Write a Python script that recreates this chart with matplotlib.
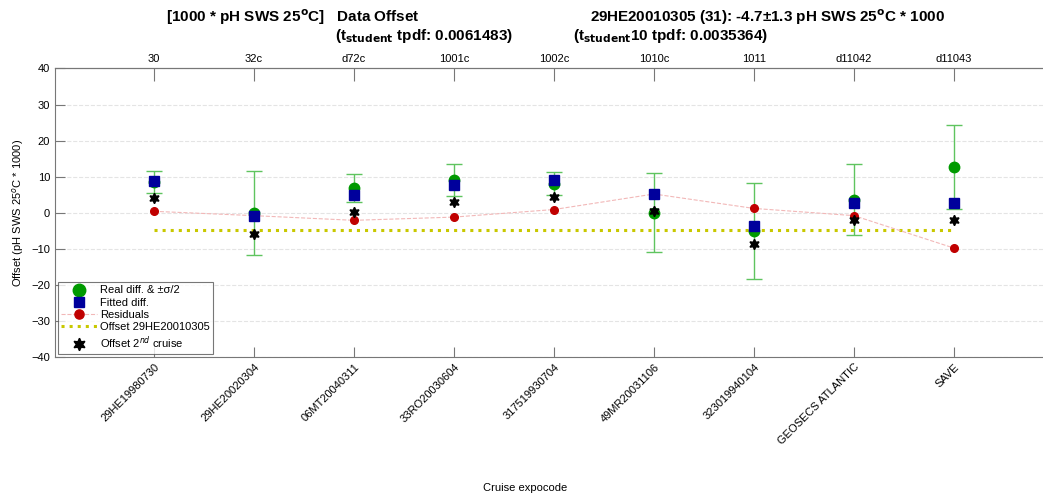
import numpy as np
import matplotlib
matplotlib.use("Agg")
import matplotlib.pyplot as plt

plt.rcParams['font.family'] = ['Liberation Sans', 'DejaVu Sans']

# cruise names (bottom axis) and station codes (top axis)
cruises = ['29HE19980730', '29HE20020304', '06MT20040311', '33RO20030604',
           '317519930704', '49MR20031106', '323019940104', 'GEOSECS ATLANTIC', 'SAVE']
codes = ['30', '32c', 'd72c', '1001c', '1002c', '1010c', '1011', 'd11042', 'd11043']

# offsets in pH SWS 25C * 1000
real_diff = [8.5, -0.15, 6.9, 9.05, 8.05, 0.0, -5.1, 3.6, 12.7]
half_sigma = [2.95, 11.6, 3.8, 4.35, 3.25, 11.0, 13.3, 9.9, 11.7]
fitted_diff = [8.9, -1.0, 4.9, 7.8, 9.0, 5.1, -3.8, 2.7, 2.8]
residuals = [0.4, -0.8, -2.1, -1.2, 0.9, 5.2, 1.2, -0.8, -9.8]
offset_2nd = [4.2, -5.8, 0.1, 3.0, 4.3, 0.4, -8.7, -2.1, -1.9]
offset_main = -4.7

x = np.arange(1, len(cruises) + 1)

fig = plt.figure(figsize=(10.43, 4.96), dpi=100)
ax = fig.add_axes([0.0527, 0.2802, 0.9492, 0.5817])

ax.errorbar(x, real_diff, yerr=half_sigma, fmt='none', ecolor='#5fc45f',
            elinewidth=1.0, capsize=6, capthick=1.0, zorder=2)
ax.plot(x, real_diff, 'o', color='#009a00', markersize=7.5, zorder=3,
        label='Real diff. & \u00b1\u03c3/2')
ax.plot(x, fitted_diff, 's', color='#00009c', markersize=6.5, zorder=4,
        label='Fitted diff.')
ax.plot(x, residuals, '--o', color='#f2b8b8', lw=0.8, markersize=5.5,
        markerfacecolor='#c00000', markeredgecolor='#c00000', zorder=2,
        label='Residuals')
ax.plot([x[0], x[-1]], [offset_main, offset_main], ':', color='#c8c800',
        lw=2.2, zorder=1, label='Offset 29HE20010305')
ax.plot(x, offset_2nd, linestyle='none', marker=(6, 1, 0), color='black',
        markersize=7.5, zorder=5, label='Offset 2$^{nd}$ cruise')

ax.set_xlim(0.01, 9.91)
ax.set_ylim(-40, 40)
ax.set_yticks(np.arange(-40, 41, 10))
ax.yaxis.grid(True, linestyle='--', color='#e4e4e4', lw=0.8)
ax.set_axisbelow(True)

ax.set_xticks(x)
ax.set_xticklabels(cruises, rotation=45, ha='right', rotation_mode='anchor',
                   fontsize=8)
ax.tick_params(axis='both', direction='in', length=7, color='#777777',
               labelsize=8)
ax.tick_params(axis='y', right=False)

top = ax.secondary_xaxis('top')
top.set_xticks(x)
top.set_xticklabels(codes, fontsize=8)
top.tick_params(direction='in', length=9, color='#777777', pad=3)

for side in ['left', 'bottom', 'top']:
    ax.spines[side].set_color('#777777')
top.spines['top'].set_color('#777777')
ax.spines['right'].set_visible(False)

ax.set_ylabel('Offset (pH SWS 25$^{o}$C * 1000)', fontsize=8)
ax.set_xlabel('Cruise expocode', fontsize=8)
ax.xaxis.set_label_coords(0.475, -0.435)

leg = ax.legend(loc='lower left', fontsize=8, frameon=True, fancybox=False,
                borderaxespad=0.25, handlelength=3.2, labelspacing=0.2,
                borderpad=0.3, handletextpad=0.3, markerscale=1.2)
leg.get_frame().set_edgecolor('#555555')
leg.get_frame().set_linewidth(0.8)

# two-part header
fig.text(0.159, 0.955, '[1000 * pH SWS 25$^{\\mathbf{o}}$C]   Data Offset',
         fontsize=11, fontweight='bold', ha='left', va='baseline')
fig.text(0.321, 0.920, '(t$_{\\mathbf{student}}$ tpdf: 0.0061483)',
         fontsize=11, fontweight='bold', ha='left', va='baseline')
fig.text(0.566, 0.955, '29HE20010305 (31): -4.7\u00b11.3 pH SWS 25$^{\\mathbf{o}}$C * 1000',
         fontsize=11, fontweight='bold', ha='left', va='baseline')
fig.text(0.549, 0.920, '(t$_{\\mathbf{student}}$10 tpdf: 0.0035364)',
         fontsize=11, fontweight='bold', ha='left', va='baseline')

fig.savefig('out.png', dpi=100)
